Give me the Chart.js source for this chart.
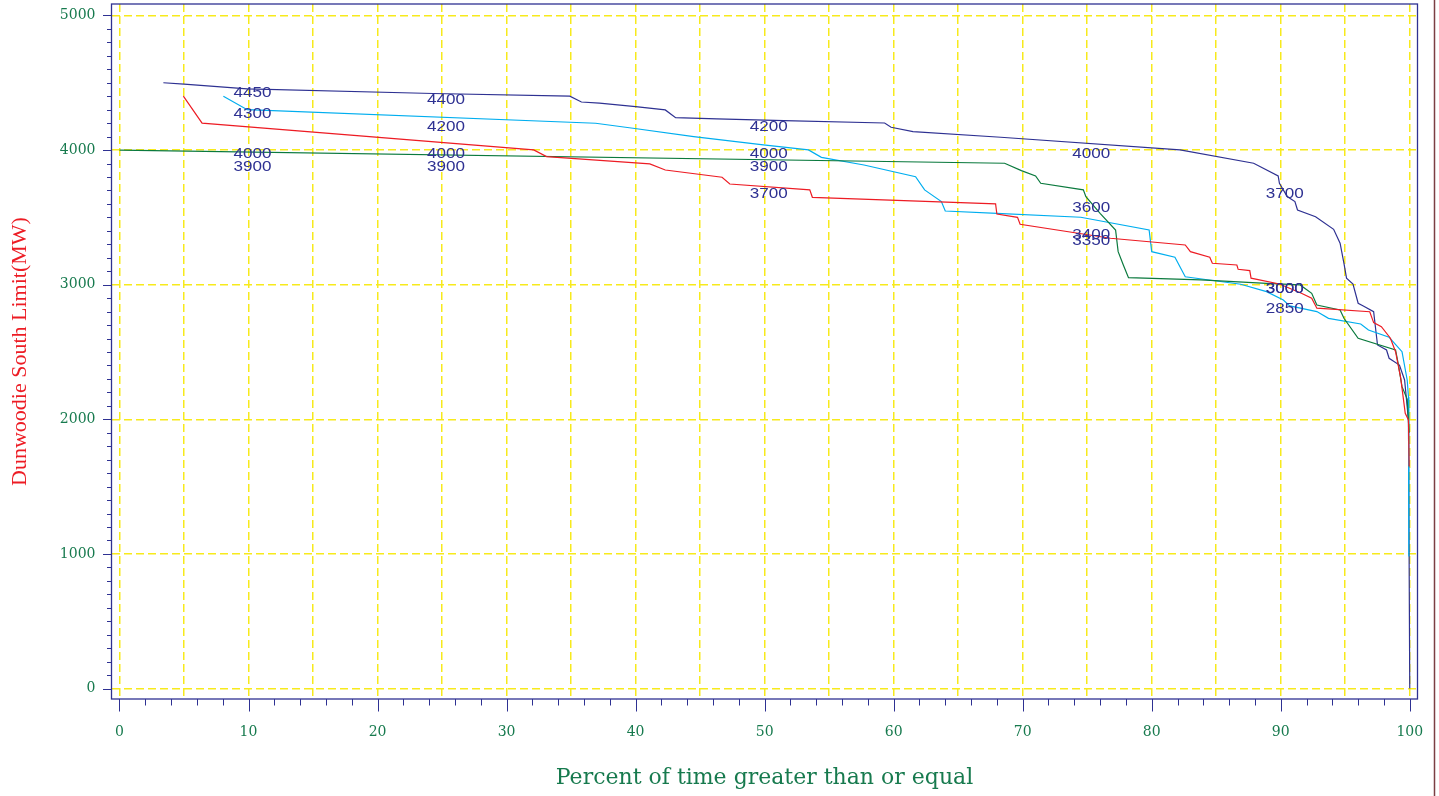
<!DOCTYPE html>
<html>
<head>
<meta charset="utf-8">
<script src="https://cdn.jsdelivr.net/npm/chart.js@4.4.1/dist/chart.umd.min.js"></script>
<style>
  html, body { margin: 0; padding: 0; background: #fff; }
  #wrap { width: 1439px; height: 796px; position: relative; }
</style>
</head>
<body>
<div id="wrap"><canvas id="chart"></canvas></div>
<script>
// duration curves: percent of time >= value, MW
const pctNavy = [3.4, 5.0, 9.9, 24.3, 34.9, 35.8, 37.2, 40.0, 42.3, 43.1, 46.3, 51.5, 59.3, 59.8, 61.5, 68.3, 82.2, 87.9, 89.8, 89.9, 90.5, 91.1, 91.3, 92.7, 94.1, 94.6, 94.9, 95.1, 95.6, 96.0, 96.4, 97.2, 97.5, 98.2, 98.4, 99.2, 99.6, 99.9, 100];
const mwNavy  = [4500, 4490, 4455, 4420, 4400, 4357, 4348, 4322, 4298, 4241, 4231, 4218, 4201, 4169, 4137, 4095, 4001, 3902, 3808, 3753, 3654, 3617, 3555, 3505, 3411, 3308, 3159, 3048, 3005, 2862, 2842, 2799, 2552, 2515, 2453, 2403, 2292, 1995, 0];

const pctCyan = [8.05, 9.9, 36.9, 39.8, 44.5, 49.9, 53.4, 54.4, 57.7, 61.7, 62.4, 63.7, 64.0, 68.0, 74.5, 79.8, 80.0, 81.8, 82.6, 86.9, 88.9, 90.2, 90.7, 92.8, 93.7, 96.2, 96.8, 98.4, 99.4, 99.8, 99.9, 99.93];
const mwCyan  = [4400, 4300, 4199, 4162, 4100, 4038, 4001, 3946, 3889, 3802, 3704, 3617, 3547, 3530, 3501, 3406, 3245, 3204, 3059, 3003, 2948, 2886, 2842, 2800, 2750, 2708, 2663, 2609, 2502, 2292, 2168, 980];

const pctRed = [4.95, 6.4, 32.1, 33.1, 41.1, 42.3, 46.7, 47.3, 53.5, 53.7, 67.9, 68.0, 69.6, 69.8, 76.8, 82.6, 83.0, 84.5, 84.7, 86.6, 86.7, 87.6, 87.7, 89.9, 91.6, 92.4, 92.8, 96.9, 97.2, 97.8, 98.5, 98.9, 99.3, 99.65, 99.9, 99.95];
const mwRed  = [4400, 4200, 4001, 3951, 3897, 3852, 3798, 3748, 3704, 3649, 3600, 3525, 3500, 3449, 3345, 3295, 3245, 3204, 3159, 3146, 3114, 3104, 3048, 3005, 2936, 2899, 2825, 2799, 2718, 2688, 2602, 2502, 2305, 2045, 1995, 1650];

const pctGreen = [0, 68.6, 69.9, 71.0, 71.4, 74.7, 74.9, 76.0, 77.2, 77.4, 77.8, 78.2, 83.8, 88.9, 91.5, 92.4, 92.8, 94.6, 94.9, 96.0, 98.9, 99.1, 99.4, 99.8, 99.95];
const mwGreen  = [4000, 3902, 3847, 3808, 3753, 3704, 3654, 3530, 3406, 3245, 3146, 3052, 3035, 3010, 2998, 2936, 2849, 2812, 2750, 2602, 2515, 2416, 2242, 2150, 1900];

// value labels written at the 10/25/50/75/90 percent marks
const labelPct = [10, 25, 50, 75, 90];
const labelMW = [
  [4450, 4300, 4000, 3900],
  [4400, 4200, 4000, 3900],
  [4200, 4000, 3900, 3700],
  [4000, 3600, 3400, 3350],
  [3700, 3000, 3000, 2850]
];

const NAVY = '#2e3192';
const YELLOW = '#f7ea1c';
const TICKGREEN = '#177a4e';

function pts(xs, ys) {
  return xs.map((x, i) => ({ x: x, y: ys[i] }));
}

function ds(xs, ys, color) {
  return {
    data: pts(xs, ys),
    borderColor: color,
    borderWidth: 1.2,
    pointRadius: 0,
    tension: 0,
    fill: false
  };
}

// frame, tick marks, value labels, right edge line
const decor = {
  id: 'decor',
  afterDatasetsDraw(chart) {
    const ctx = chart.ctx;
    const a = chart.chartArea;
    const xs = chart.scales.x, ys = chart.scales.y;
    ctx.save();
    ctx.strokeStyle = NAVY;
    ctx.lineWidth = 1.3;
    ctx.strokeRect(a.left, a.top, a.right - a.left, a.bottom - a.top);

    ctx.lineWidth = 1;
    ctx.beginPath();
    ys.ticks.forEach(t => {
      const v = Math.round(t.value);
      const py = Math.round(ys.getPixelForValue(v)) + 0.5;
      const len = v % 1000 === 0 ? 8.5 : 4.5;
      ctx.moveTo(a.left - len, py);
      ctx.lineTo(a.left, py);
    });
    xs.ticks.forEach(t => {
      const v = Math.round(t.value);
      if (v % 2 !== 0) return;
      const px = Math.round(xs.getPixelForValue(v)) + 0.5;
      const len = v % 10 === 0 ? 12.5 : 6.5;
      ctx.moveTo(px, a.bottom);
      ctx.lineTo(px, a.bottom + len);
    });
    ctx.stroke();

    ctx.fillStyle = NAVY;
    ctx.font = '14px "Liberation Sans", Arial, sans-serif';
    ctx.textAlign = 'center';
    ctx.textBaseline = 'middle';
    labelPct.forEach((p, i) => {
      labelMW[i].forEach(mw => {
        const px = xs.getPixelForValue(p) + 4;
        const py = ys.getPixelForValue(mw) + 4;
        ctx.save();
        ctx.translate(px, py);
        ctx.scale(1.22, 1);
        ctx.fillText(String(mw), 0, 0);
        ctx.restore();
      });
    });

    ctx.strokeStyle = '#7b3f44';
    ctx.lineWidth = 1.5;
    ctx.beginPath();
    ctx.moveTo(chart.width - 4.5, 0);
    ctx.lineTo(chart.width - 4.5, chart.height);
    ctx.stroke();
    ctx.restore();
  }
};

new Chart(document.getElementById('chart'), {
  type: 'line',
  data: {
    datasets: [
      ds(pctRed, mwRed, '#ed1c24'),
      ds(pctGreen, mwGreen, '#0b7a3e'),
      ds(pctCyan, mwCyan, '#00aeef'),
      ds(pctNavy, mwNavy, NAVY)
    ]
  },
  options: {
    responsive: true,
    maintainAspectRatio: false,
    animation: false,
    layout: { padding: { top: 4, right: 21.5, left: 0, bottom: 0 } },
    plugins: {
      legend: { display: false },
      tooltip: { enabled: false }
    },
    scales: {
      x: {
        type: 'linear',
        min: -0.62,
        max: 100.6,
        afterFit: s => {
          s.height = 97;
          s.paddingLeft = 0;
          s.paddingRight = 0;
        },
        border: { display: false, dash: [8, 4] },
        grid: {
          drawTicks: false,
          lineWidth: 1.5,
          color: c => (c.tick && Math.round(c.tick.value) % 5 === 0) ? YELLOW : 'rgba(0,0,0,0)'
        },
        ticks: {
          stepSize: 1,
          includeBounds: false,
          autoSkip: false,
          maxRotation: 0,
          padding: 25,
          color: TICKGREEN,
          font: { family: '"DejaVu Serif", serif', size: 14 },
          callback: v => (Math.round(v) % 10 === 0 ? String(Math.round(v)) : '')
        },
        title: {
          display: true,
          text: 'Percent of time greater than or equal',
          color: TICKGREEN,
          font: { family: '"DejaVu Serif", serif', size: 22 },
          padding: { top: 0, bottom: 5 }
        }
      },
      y: {
        min: -78,
        max: 5085,
        afterFit: s => {
          s.width = 111.5;
          s.paddingTop = 0;
          s.paddingBottom = 0;
        },
        border: { display: false, dash: [8, 4] },
        grid: {
          drawTicks: false,
          lineWidth: 1.5,
          color: c => (c.tick && Math.round(c.tick.value) % 1000 === 0) ? YELLOW : 'rgba(0,0,0,0)'
        },
        ticks: {
          stepSize: 100,
          includeBounds: false,
          autoSkip: false,
          padding: 16,
          color: TICKGREEN,
          font: { family: '"DejaVu Serif", serif', size: 14 },
          callback: v => (Math.round(v) % 1000 === 0 ? String(Math.round(v)) : '')
        },
        title: {
          display: true,
          text: 'Dunwoodie South Limit(MW)',
          color: '#ed1c24',
          font: { family: '"Liberation Serif", serif', size: 22 },
          padding: { top: 7, bottom: 0 }
        }
      }
    }
  },
  plugins: [decor]
});
</script>
</body>
</html>
